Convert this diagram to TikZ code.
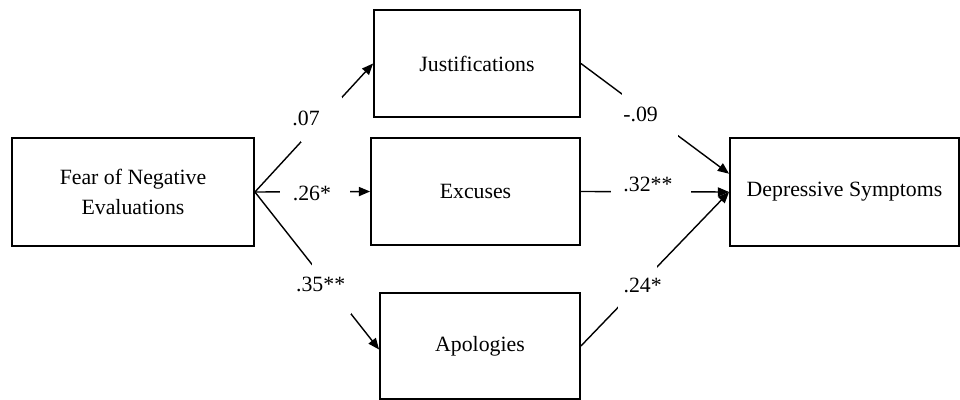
\documentclass[tikz,border=0pt]{standalone}
\usepackage{fontspec}
\setmainfont{Liberation Serif}
\usetikzlibrary{arrows.meta}
\newcommand{\pxu}{0.025cm}

\begin{document}
\begin{tikzpicture}[x=\pxu, y=-\pxu, every node/.style={font={\fontsize{15.5}{21}\selectfont}}, >={Triangle[length=8pt,width=6.5pt]},
	box/.style={draw, line width=1.3pt, inner sep=0pt, align=center},
	gap/.style={fill=white, inner sep=0pt}]
	\useasboundingbox (0,0) rectangle (960,400);
	\node[box, minimum width=242*\pxu, minimum height=108*\pxu] (fear) at (133,192) {Fear of Negative\\Evaluations};
	\node[box, minimum width=206*\pxu, minimum height=107*\pxu] (just) at (477,63.5) {Justifications};
	\node[box, minimum width=209*\pxu, minimum height=107*\pxu] (exc) at (475.5,191.5) {Excuses};
	\node[box, minimum width=200*\pxu, minimum height=106*\pxu] (apol) at (480,346) {Apologies};
	\node[box, minimum width=229*\pxu, minimum height=108*\pxu] (dep) at (844.5,192) {Depressive Symptoms};
	% paths from the predictor
	\draw[->, line width=1pt] (fear.east) -- node[gap, pos=0.564, minimum width=41*\pxu, minimum height=45*\pxu, label={[xshift=-15.5*\pxu, yshift=1.5*\pxu]center:.07}] {} (just.west);
	\draw[->, line width=1pt] (fear.east) -- node[gap, pos=0.521, minimum width=70*\pxu, minimum height=20*\pxu, label={[xshift=-3*\pxu, yshift=-2*\pxu]center:.26*}] {} (exc.west);
	\draw[->, line width=1pt] (fear.east) -- node[gap, pos=0.614, minimum width=39*\pxu, minimum height=51*\pxu, label={[xshift=-10.5*\pxu, yshift=4.5*\pxu]center:.35**}] {} (apol.182);
	% paths to the outcome
	\draw[->, line width=1pt] (just.east) -- node[gap, pos=0.467, minimum width=56*\pxu, minimum height=45*\pxu, label={[xshift=-9.5*\pxu, yshift=0.5*\pxu]center:-.09}] {} (dep.171);
	\draw[->, line width=1pt] (exc.east) -- node[gap, pos=0.473, minimum width=80*\pxu, minimum height=20*\pxu, label={[xshift=-3*\pxu, yshift=7*\pxu]center:.32**}] {} (dep.west);
	\draw[->, line width=1pt] (apol.east) -- node[gap, pos=0.383, minimum width=39*\pxu, minimum height=46*\pxu, label={[xshift=5*\pxu, yshift=2*\pxu]center:.24*}] {} (dep.west);
\end{tikzpicture}
\end{document}
